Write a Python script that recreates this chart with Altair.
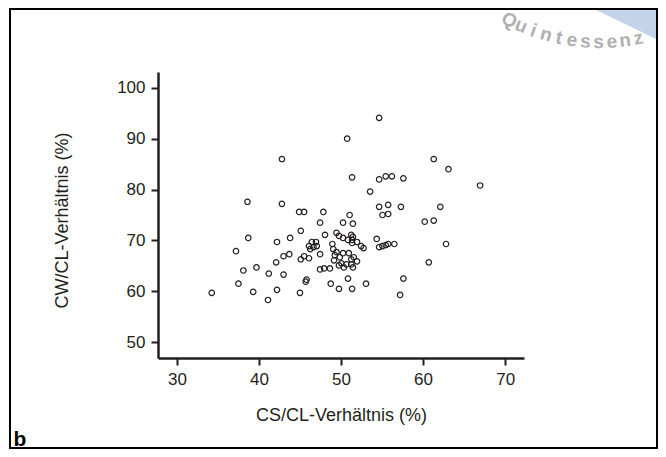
import math
import altair as alt
import pandas as pd

# ---- data ----
cs = [54.65, 50.75, 42.8, 61.3, 63.1, 51.35, 54.65, 55.45, 56.2, 57.6,
      66.95, 53.55, 38.6, 42.8, 54.65, 55.75, 57.3, 62.1, 55.05, 55.75,
      51.05, 44.9, 45.5, 47.85, 47.45, 50.25, 51.45, 60.2, 61.3, 45.1,
      38.7, 42.2, 43.8, 48.05, 49.45, 49.75, 50.25, 51.25, 51.45, 50.85,
      51.35, 51.35, 51.95, 46.45, 46.95, 46.1, 46.65, 47.05, 46.25, 48.95,
      49.05, 52.45, 52.75, 54.35, 54.65, 55.05, 55.45, 55.75, 56.5, 62.8,
      37.2, 43.0, 43.7,
      45.1, 45.5, 46.1, 47.45, 49.45, 49.25, 49.85, 50.25, 50.95, 51.25,
      51.55, 51.95, 49.15, 50.05, 50.65, 49.75, 50.35, 51.25, 51.45, 47.45,
      47.95, 48.65, 42.1, 38.1, 39.7, 41.2, 43.0, 60.7, 45.8, 45.7,
      48.75, 50.85, 53.05, 57.6, 37.5, 34.25, 39.3, 42.2, 45.0, 49.75,
      51.35, 57.2, 41.1]
cw = [94.1, 90.0, 86.0, 86.0, 84.0, 82.4, 82.0, 82.6, 82.6, 82.2,
      80.8, 79.6, 77.6, 77.2, 76.6, 77.0, 76.6, 76.6, 75.0, 75.2,
      75.0, 75.6, 75.6, 75.6, 73.5, 73.5, 73.3, 73.7, 73.9, 71.9,
      70.5, 69.7, 70.5, 71.1, 71.5, 70.9, 70.5, 71.1, 70.7, 70.1,
      70.1, 69.5, 69.7, 69.7, 69.7, 68.9, 68.7, 68.9, 68.3, 69.3,
      68.3, 68.9, 68.5, 70.3, 68.7, 68.9, 69.1, 69.3, 69.3, 69.3,
      67.9, 66.9, 67.3,
      66.3, 66.9, 66.5, 67.3, 67.7, 67.1, 66.7, 67.5, 67.5, 66.3,
      66.7, 65.9, 66.1, 65.5, 65.3, 65.1, 64.7, 65.3, 64.7, 64.3,
      64.5, 64.5, 65.7, 64.1, 64.7, 63.5, 63.3, 65.7, 62.3, 61.9,
      61.5, 62.5, 61.5, 62.5, 61.5, 59.7, 59.9, 60.3, 59.7, 60.5,
      60.5, 59.3, 58.3]
x_ticks = [30, 40, 50, 60, 70]
y_ticks = [50, 60, 70, 80, 90, 100]
x_title = "CS/CL-Verhältnis (%)"
y_title = "CW/CL-Verhältnis (%)"
panel_label = "b"
watermark = "Quintessenz"

INK = "#231f20"
FONT = "Liberation Sans"
W, H = 366, 286

df = pd.DataFrame({"cs": cs, "cw": cw})
one = pd.DataFrame({"k": [0]})

points = alt.Chart(df).mark_point(
    filled=False, shape="circle", size=30, strokeWidth=1.2, color=INK, opacity=1
).encode(
    x=alt.X("cs:Q", scale=alt.Scale(domain=[27.7, 72.3], nice=False, zero=False),
            axis=alt.Axis(values=x_ticks, title=x_title, titleY=57, titleBaseline="middle")),
    y=alt.Y("cw:Q", scale=alt.Scale(domain=[46.9, 103.1], nice=False, zero=False),
            axis=alt.Axis(values=y_ticks, title=y_title, titleX=-96, titleY=148,
                          titleBaseline="middle")),
)

# frame round the figure (plot-pixel coordinates relative to the plot origin)
frame = alt.Chart(one).mark_rect(filled=False, stroke="black", strokeWidth=2).encode(
    x=alt.value(-148), x2=alt.value(499), y=alt.value(-63), y2=alt.value(376)
)

label_b = alt.Chart(one).mark_text(
    text=panel_label, fontSize=21, fontWeight="bold", font=FONT, color="black",
    align="center", baseline="middle"
).encode(x=alt.value(-138), y=alt.value(368))

# watermark: blue band + stamp rings + arc text
band = alt.Chart(one).mark_rule(color="#c3d4ea", strokeWidth=40, strokeCap="butt").encode(
    x=alt.value(418), x2=alt.value(560), y=alt.value(-94), y2=alt.value(-25)
)
rings = alt.Chart(pd.DataFrame({"d": [104, 176]})).mark_point(
    shape="circle", filled=False, color="#c8c8c8", strokeWidth=1
).encode(x=alt.value(427), y=alt.value(-91), size=alt.Size("d:Q", scale=None))

letters = []
cx, cy, r = 442, -230, 200
for i, ch in enumerate(watermark):
    th = 98 + (5 - i) * 3.8
    a = math.radians(th)
    px = cx + r * math.cos(a)
    py = cy + r * math.sin(a)
    ang = (th - 90) % 360
    letters.append(
        alt.Chart(one).mark_text(text=ch, fontSize=19, fontWeight="bold", font=FONT,
                                 color="#b0b0b0", align="center", baseline="middle",
                                 angle=ang)
        .encode(x=alt.value(px), y=alt.value(py))
    )

chart = alt.layer(band, rings, *letters, frame, label_b, points).properties(
    width=W, height=H,
    padding={"left": 150, "top": 64, "right": 134, "bottom": 91},
    autosize=alt.AutoSizeParams(type="none"),
    background="white",
).configure_view(stroke=None).configure_axis(
    grid=False, domainColor=INK, domainWidth=2.5, tickColor=INK, tickWidth=2,
    tickSize=7, labelFont=FONT, labelFontSize=17, labelColor=INK, labelPadding=6,
    titleFont=FONT, titleFontSize=18, titleFontWeight="normal", titleColor=INK,
)

chart.save("out.html", embed_options={"renderer": "svg", "actions": False})
